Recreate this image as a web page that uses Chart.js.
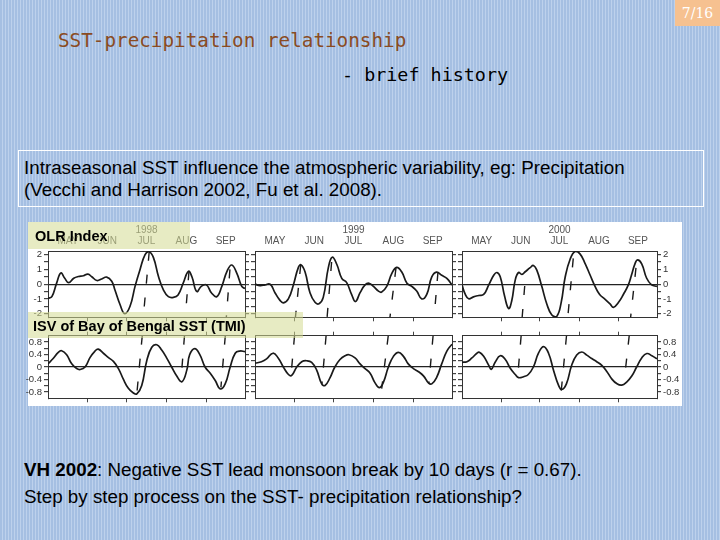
<!DOCTYPE html>
<html>
<head>
<meta charset="utf-8">
<script src="https://cdn.jsdelivr.net/npm/chart.js@4.4.0/dist/chart.umd.min.js"></script>
<style>
  html, body { margin: 0; padding: 0; }
  body {
    width: 720px; height: 540px; position: relative; overflow: hidden;
    background: repeating-linear-gradient(90deg, #a5bfe2 0px, #a5bfe2 2px, #bdd1ec 2px, #bdd1ec 3px);
  }
  .abs { position: absolute; white-space: nowrap; }
  .title { font-family: "DejaVu Sans Mono", monospace; font-size: 19.3px; line-height: 24px; }
  .body { font-family: "Liberation Sans", Arial, sans-serif; font-size: 18.8px; line-height: 22px; color: #000; }
  .tag { font-family: "Liberation Sans", Arial, sans-serif; font-weight: bold; color: #000; font-size: 14.5px; line-height: 18px; }
  canvas { position: absolute; }
</style>
</head>
<body>
<div class="abs" style="left:675px;top:0;width:45px;height:26px;background:#f6c190;color:#fff;font-family:'DejaVu Serif',serif;font-size:14px;line-height:26px;text-align:center;">7/16</div>

<div class="abs title" style="left:58px;top:29px;color:#8a4b22;">SST-precipitation relationship</div>
<div class="abs title" style="left:342px;top:63px;color:#000;font-size:18.4px;">- brief history</div>

<div class="abs" style="left:18px;top:150px;width:684px;height:55px;border:1px solid #fff;"></div>
<div class="abs body" style="left:24px;top:157px;">Intraseasonal SST influence the atmospheric variability, eg: Precipitation</div>
<div class="abs body" style="left:24px;top:179px;">(Vecchi and Harrison 2002, Fu et al. 2008).</div>

<div class="abs" style="left:28px;top:222px;width:654px;height:184px;background:#fff;"></div>
<canvas id="c98u" width="229" height="103" style="left:22px;top:222px;"></canvas>
<canvas id="c99u" width="209" height="103" style="left:249px;top:222px;"></canvas>
<canvas id="c00u" width="227" height="103" style="left:456px;top:222px;"></canvas>
<canvas id="c98l" width="229" height="78" style="left:22px;top:328px;"></canvas>
<canvas id="c99l" width="209" height="78" style="left:249px;top:328px;"></canvas>
<canvas id="c00l" width="227" height="78" style="left:456px;top:328px;"></canvas>

<div class="abs" style="left:28px;top:222px;width:162px;height:27px;background:rgba(212,218,145,0.55);"></div>
<div class="abs tag" style="left:35px;top:227px;">OLR Index</div>
<div class="abs" style="left:28px;top:312px;width:275px;height:26px;background:rgba(212,218,145,0.55);"></div>
<div class="abs tag" style="left:33px;top:317px;">ISV of Bay of Bengal SST (TMI)</div>

<div class="abs body" style="left:24px;top:459px;"><b>VH 2002</b>: Negative SST lead monsoon break by 10 days (r = 0.67).</div>
<div class="abs body" style="left:24px;top:486px;">Step by step process on the SST- precipitation relationship?</div>

<script>
// x = days since 1 May
const months = ['MAY', 'JUN', 'JUL', 'AUG', 'SEP'];
const monthMid = [15.5, 46, 76.5, 107.5, 138];
const monthEdge = [31, 61, 92, 123];
const olrTicks = [-2, -1.5, -1, -0.5, 0, 0.5, 1, 1.5, 2];
const sstTicks = [-0.8, -0.6, -0.4, -0.2, 0, 0.2, 0.4, 0.6, 0.8];

// 1998
const olr98Days = [0, 3, 6.7, 10, 13, 16, 20, 23.6, 27.5, 31, 34, 38, 41.7, 45.6, 49.5, 52, 56, 59.6, 63.7, 67.6, 71.5, 75.4, 78.5, 81.9, 85.8, 89.7, 93.5, 97.4, 101, 105, 109, 111.7, 115.5, 119, 123, 127, 131, 135, 139, 142.7, 146.6, 150.5, 153];
const olr98 = [-0.96, -0.85, 0.07, 0.75, 0.4, 0.1, 0.4, 0.52, 0.57, 0.68, 0.5, 0.25, 0.35, 0.48, 0.2, -0.4, -1.4, -2.0, -1.5, -0.15, 1.0, 2.0, 2.2, 1.8, 0.52, -0.4, -0.85, -0.9, -0.73, 0.07, 0.87, 0.52, -0.5, -0.15, -0.05, -0.6, -0.85, -0.15, 0.87, 1.3, 0.75, -0.15, -0.3];
const sst98Days = [0, 4, 8, 10.6, 14.5, 18.4, 22.3, 25, 28.8, 32.6, 36.5, 39, 43, 47, 50.8, 54.7, 58.5, 62.4, 66.3, 69, 72.8, 76.7, 80.6, 84.5, 88.3, 92, 96, 100, 104, 107.8, 110, 114, 118, 122, 126, 130, 133.7, 137.6, 141.5, 145.4, 149, 153];
const sst98 = [0.1, 0.27, 0.47, 0.52, 0.39, 0.1, -0.05, -0.08, 0, 0.3, 0.51, 0.57, 0.44, 0.3, 0.18, -0.05, -0.39, -0.68, -0.83, -0.86, -0.59, 0.2, 0.63, 0.71, 0.54, 0.3, 0, -0.29, -0.47, -0.1, 0.39, 0.59, 0.39, 0, -0.2, -0.44, -0.7, -0.54, 0, 0.44, 0.51, 0.49];

// 1999
const olr99Days = [0, 3.9, 7.8, 11.7, 15.5, 19.4, 22, 25.9, 29.8, 33.7, 35.8, 38.9, 42.7, 46.6, 49.7, 53, 57, 60, 63.5, 67.4, 71.2, 75, 78, 81.6, 85.5, 88.6, 92, 95.9, 98.4, 102.3, 106.2, 110, 114, 118, 121.8, 125.6, 129.5, 133.4, 137.3, 141, 145, 149, 153];
const olr99 = [0, -0.1, -0.05, 0, -0.58, -1.1, -1.27, -1.0, -0.05, 1.14, 1.31, 0.82, -0.58, -1.23, -1.33, -0.9, 1.14, 1.83, 1.35, 0.39, 0.1, -0.69, -1.18, -0.58, -0.05, 0.06, -0.15, -0.47, -0.54, -0.15, 0.71, 1.14, 0.82, 0.06, -0.15, -0.47, -1.0, -0.69, 0.49, 0.82, 0.6, 0.39, -0.05];
const sst99Days = [0, 5, 9, 14, 18, 22, 26, 28.5, 32.4, 36.3, 40, 44, 47.9, 51.8, 54.4, 58.3, 62, 66, 70, 73, 77.7, 81.6, 85.5, 89.4, 93, 96.6, 99.7, 103.6, 107.5, 111.4, 115.3, 119, 123, 127, 131, 134.7, 137.3, 141, 145, 149, 153];
const sst99 = [0.12, 0.17, 0.26, 0.44, 0.29, 0, -0.24, -0.27, 0, 0.17, 0.2, 0.15, -0.1, -0.54, -0.59, -0.34, 0, 0.24, 0.36, 0.39, 0.29, 0.1, -0.05, -0.2, -0.49, -0.66, -0.49, 0, 0.34, 0.47, 0.34, 0.1, -0.05, -0.15, -0.29, -0.51, -0.54, -0.34, 0.1, 0.51, 0.73];

// 2000
const olr00Days = [0, 2.6, 5.2, 9, 13, 17, 21, 25, 27.4, 30, 33.4, 36.6, 39, 41.8, 44.4, 47, 49.6, 53.5, 56, 58.7, 62.6, 66.6, 70.5, 74.4, 77.8, 81, 84.9, 88.8, 92.7, 96.7, 100.5, 104.4, 108, 112.3, 116.3, 118.8, 122.7, 126.6, 130.5, 133, 135.7, 137.8, 141, 144.9, 148.8, 153];
const olr00 = [-0.05, -0.7, -0.99, -0.86, -0.77, -0.7, -0.05, 0.62, 0.79, 0.5, -0.81, -1.65, -1.14, 0.29, 0.79, 0.66, 0.84, 1.12, 1.27, 0.95, -0.15, -1.36, -2.09, -2.18, -1.25, 0.5, 1.71, 2.22, 2.04, 1.38, 0.62, -0.15, -0.7, -1.03, -1.36, -1.58, -1.25, -0.7, -0.05, 0.62, 1.38, 1.65, 1.38, 0.4, -0.05, -0.15];
const sst00Days = [0, 3.9, 7.8, 11.7, 13.6, 17, 21, 23, 26, 30, 34, 38, 41.8, 44.4, 48.3, 52, 56, 60, 64, 67.9, 71.8, 75.7, 78.3, 82, 86, 90, 94, 97.9, 101.8, 105.7, 109.7, 113.6, 117.5, 121.4, 125.3, 129.2, 133.2, 137, 141, 145, 149, 153];
const sst00 = [0.15, 0.17, 0.29, 0.44, 0.47, 0.34, 0.05, -0.07, 0.15, 0.36, 0.24, -0.05, -0.24, -0.34, -0.31, -0.24, 0, 0.44, 0.65, 0.44, -0.1, -0.58, -0.72, -0.53, 0.05, 0.38, 0.48, 0.38, 0.27, 0.17, 0.05, -0.14, -0.38, -0.53, -0.58, -0.48, -0.29, 0, 0.29, 0.43, 0.36, 0.26];

// dashed lag lines: [startDay, startValue, endDay, endValue]
const lagOlr98 = [[78.6, 2.2, 74, -2.25], [109.5, 0.87, 106.6, -2.25], [141.3, 1.0, 138.5, -2.25]];
const lagSst98 = [[73.2, 1, 69, -0.85], [106, 1, 103.2, -0.45], [137.7, 1, 134.3, -0.65]];
const lagOlr99 = [[35.5, 1.3, 31.4, -2.25], [59.5, 1.5, 56, -2.25], [109.5, 1.1, 104.8, -2.25], [142.1, 0.82, 139.1, -2.25]];
const lagSst99 = [[30.7, 1, 27.9, -0.3], [55.2, 1, 52, -0.54], [103.5, 1, 98.4, -0.69], [138.3, 1, 135, -0.54]];
const lagOlr00 = [[49.2, -0.13, 47.2, -2.25], [87.3, 1.75, 83, -2.25], [136.5, 1.1, 132.3, -2.25]];
const lagSst00 = [[46.4, 1, 43.7, -0.31], [82, 1, 77.9, -0.75], [131.2, 1, 127.6, -0.31]];

const axisFont = { family: 'Liberation Sans, Arial, sans-serif', size: 9.5 };
const inkColor = '#1a1a1a';

const makePanel = (id, year, kind, days, values, lags, labelSide) => {
  const isOlr = kind === 'olr';
  const upper = isOlr;
  const tickVals = isOlr ? olrTicks : sstTicks;
  const isLabel = (v) => (isOlr ? Number.isInteger(v) : Math.abs(Math.round(v * 10)) % 4 === 0);
  const fmt = (v) => (isOlr ? String(v) : Math.abs(v) < 1e-9 ? '0' : v.toFixed(1));

  const datasets = [
    {
      data: days.map((d, i) => ({ x: d, y: values[i] })),
      borderColor: inkColor,
      borderWidth: 1.7,
      pointRadius: 0,
      tension: 0.45,
    },
  ];
  lags.forEach((l) => {
    datasets.push({
      data: [{ x: l[0], y: l[1] }, { x: l[2], y: l[3] }],
      borderColor: inkColor,
      borderWidth: 1.4,
      borderDash: [9, 14],
      pointRadius: 0,
    });
  });

  const yAxis = (position, showLabels, width) => ({
    position,
    min: isOlr ? -2.25 : -1,
    max: isOlr ? 2.25 : 1,
    afterBuildTicks: (s) => {
      s.ticks = tickVals.map((v) => ({ value: v }));
    },
    afterFit: (s) => {
      s.width = width;
    },
    ticks: {
      autoSkip: false,
      padding: 2,
      font: axisFont,
      color: '#333',
      callback: (v) => (showLabels && isLabel(v) ? fmt(v) : ''),
    },
    grid: {
      drawOnChartArea: position === 'left',
      color: (c) => (c.tick && Math.abs(c.tick.value) < 1e-9 ? '#222' : 'transparent'),
      lineWidth: 1.2,
      tickColor: '#444',
      tickLength: 4,
    },
    border: { display: true, color: '#333', width: 1 },
  });

  const xTop = upper
    ? {
        type: 'linear',
        position: 'top',
        min: 0,
        max: 153,
        afterBuildTicks: (s) => {
          s.ticks = monthMid.map((v) => ({ value: v }));
        },
        afterFit: (s) => {
          s.height = 29;
        },
        ticks: {
          autoSkip: false,
          maxRotation: 0,
          padding: 4,
          font: { family: axisFont.family, size: 10 },
          color: '#555',
          callback: (v, i) => months[i],
        },
        grid: { drawOnChartArea: false, drawTicks: false },
        border: { display: true, color: '#333', width: 1 },
        title: {
          display: true,
          text: year,
          color: '#555',
          font: { family: axisFont.family, size: 10 },
          padding: { top: 2, bottom: 0 },
        },
      }
    : {
        type: 'linear',
        position: 'top',
        min: 0,
        max: 153,
        afterBuildTicks: (s) => {
          s.ticks = monthEdge.map((v) => ({ value: v }));
        },
        afterFit: (s) => {
          s.height = 5;
        },
        ticks: { autoSkip: false, maxRotation: 0, callback: () => '' },
        grid: { drawOnChartArea: false, tickLength: 4, tickColor: '#444' },
        border: { display: true, color: '#333', width: 1 },
      };

  new Chart(document.getElementById(id), {
    type: 'line',
    data: { datasets },
    options: {
      responsive: false,
      animation: false,
      events: [],
      layout: { padding: 0 },
      plugins: { legend: { display: false }, tooltip: { enabled: false } },
      scales: {
        x: {
          type: 'linear',
          position: 'bottom',
          min: 0,
          max: 153,
          afterBuildTicks: (s) => {
            s.ticks = monthEdge.map((v) => ({ value: v }));
          },
          afterFit: (s) => {
            s.height = 5;
          },
          ticks: { autoSkip: false, maxRotation: 0, callback: () => '' },
          grid: { drawOnChartArea: false, tickLength: 4, tickColor: '#444' },
          border: { display: true, color: '#333', width: 1 },
        },
        xTop,
        y: yAxis('left', labelSide === 'left', labelSide === 'left' ? 26 : 6),
        y2: yAxis('right', labelSide === 'right', labelSide === 'right' ? 26 : 6),
      },
    },
  });
};

makePanel('c98u', '1998', 'olr', olr98Days, olr98, lagOlr98, 'left');
makePanel('c99u', '1999', 'olr', olr99Days, olr99, lagOlr99, 'none');
makePanel('c00u', '2000', 'olr', olr00Days, olr00, lagOlr00, 'right');
makePanel('c98l', '1998', 'sst', sst98Days, sst98, lagSst98, 'left');
makePanel('c99l', '1999', 'sst', sst99Days, sst99, lagSst99, 'none');
makePanel('c00l', '2000', 'sst', sst00Days, sst00, lagSst00, 'right');
</script>
</body>
</html>
